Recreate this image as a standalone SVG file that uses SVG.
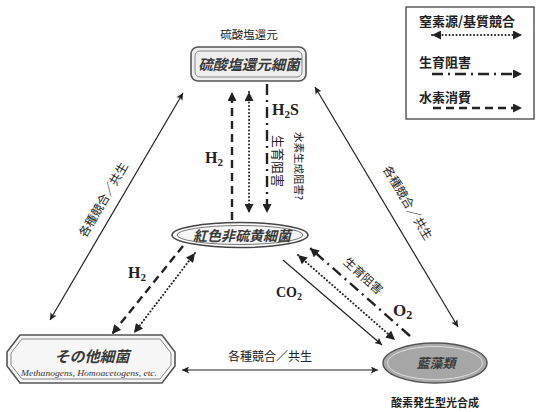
<svg xmlns="http://www.w3.org/2000/svg" width="544" height="412" viewBox="0 0 544 412">
<style>
.jp{font-family:"Noto Sans CJK JP","Noto Sans",sans-serif;fill:#222}
.lbl{font-family:"Noto Sans CJK JP",sans-serif;font-size:12px;fill:#222;text-anchor:middle}
.nt{font-family:"Noto Sans CJK JP",sans-serif;font-weight:bold;font-style:italic;fill:#3a3a3a;text-anchor:middle}
.chem{font-family:"Liberation Serif",serif;font-weight:bold;fill:#222}
.solid{stroke:#222;stroke-width:1.2;fill:none}
.dash{stroke:#222;stroke-width:2.4;stroke-dasharray:8 5;fill:none}
.dot{stroke:#222;stroke-width:2;stroke-dasharray:0.1 3.4;stroke-linecap:round;fill:none}
.dd{stroke:#222;stroke-width:2.4;stroke-dasharray:11 5 2 5;fill:none}
</style>
<defs>
<marker id="ah" viewBox="0 0 10 10" refX="10" refY="5" markerUnits="userSpaceOnUse" markerWidth="10" markerHeight="9" orient="auto-start-reverse">
<path d="M0,0 L10,5 L0,10 z" fill="#222"/>
</marker>
<marker id="sh" viewBox="0 0 10 10" refX="10" refY="5" markerUnits="userSpaceOnUse" markerWidth="9" markerHeight="7" orient="auto-start-reverse">
<path d="M0,0 L10,5 L0,10 L2,5 z" fill="#222"/>
</marker>
</defs>
<rect width="544" height="412" fill="#fff"/>

<g id="legend">
<rect x="406" y="7" width="128" height="112" fill="#fff" stroke="#333" stroke-width="1.2"/>
<text class="jp" x="419" y="26" font-size="13" font-weight="bold">窒素源/基質競合</text>
<line class="dot" x1="432" y1="35" x2="522" y2="35" marker-start="url(#ah)" marker-end="url(#ah)"/>
<text class="jp" x="419" y="67" font-size="13" font-weight="bold">生育阻害</text>
<line class="dd" x1="432" y1="74" x2="522" y2="74" marker-end="url(#ah)"/>
<text class="jp" x="419" y="102" font-size="13" font-weight="bold">水素消費</text>
<line class="dash" x1="433" y1="108" x2="522" y2="108" marker-end="url(#ah)"/>
</g>

<g id="connectors">
<line class="solid" x1="183" y1="93" x2="50" y2="320" marker-start="url(#sh)" marker-end="url(#sh)"/>
<line class="solid" x1="315" y1="87" x2="458" y2="327" marker-start="url(#sh)" marker-end="url(#sh)"/>
<line class="solid" x1="182" y1="370" x2="378" y2="370" marker-start="url(#sh)" marker-end="url(#sh)"/>
<line class="dash" x1="232" y1="220" x2="232" y2="92" marker-end="url(#ah)"/>
<line class="dot" x1="249" y1="92" x2="249" y2="213" marker-start="url(#ah)" marker-end="url(#ah)"/>
<line class="dd" x1="267" y1="84" x2="267" y2="213" marker-end="url(#ah)"/>
<line class="dash" x1="183" y1="246" x2="112" y2="334" marker-end="url(#ah)"/>
<line class="dot" x1="195" y1="253" x2="134" y2="333" marker-start="url(#ah)" marker-end="url(#ah)"/>
<line class="solid" x1="283" y1="260" x2="382" y2="345" marker-end="url(#sh)"/>
<line class="dot" x1="298" y1="255" x2="395" y2="340" marker-start="url(#ah)" marker-end="url(#ah)"/>
<line class="dd" x1="410" y1="336" x2="310" y2="248" marker-end="url(#ah)"/>
<text class="lbl" transform="translate(107,202) rotate(-59.6)">各種競合／共生</text>
<text class="lbl" transform="translate(404,205) rotate(59.2)">各種競合／共生</text>
<text class="lbl" x="270" y="361">各種競合／共生</text>
<text class="chem" x="205" y="163" font-size="16">H<tspan font-size="11" dy="3">2</tspan></text>
<text class="chem" x="272" y="115" font-size="16">H<tspan font-size="11" dy="3">2</tspan><tspan dy="-3">S</tspan></text>
<text class="jp" font-size="13" text-anchor="middle" transform="translate(277,161) rotate(90)" dy="4.5">生育阻害</text>
<text class="jp" font-size="10.5" text-anchor="middle" transform="translate(298,166) rotate(90)" dy="3.5">水素生成阻害?</text>
<text class="chem" x="128" y="278" font-size="16">H<tspan font-size="11" dy="3">2</tspan></text>
<text class="chem" x="276" y="297" font-size="14">CO<tspan font-size="10" dy="3">2</tspan></text>
<text class="chem" x="393" y="316" font-size="17">O<tspan font-size="12" dy="3">2</tspan></text>
<text class="jp" font-size="12" text-anchor="middle" transform="translate(363,276) rotate(42)" dy="4">生育阻害</text>
</g>

<g id="node-srb">
<text class="jp" x="249" y="39" font-size="11.5" text-anchor="middle">硫酸塩還元</text>
<rect x="191" y="47" width="115" height="34" rx="7" fill="#efefef" stroke="#555" stroke-width="1.6"/>
<rect x="195" y="51" width="107" height="26" rx="5" fill="none" stroke="#888" stroke-width="1"/>
<text class="nt" x="249" y="70" font-size="14.5">硫酸塩還元細菌</text>
</g>

<g id="node-psb">
<ellipse cx="240" cy="235" rx="68" ry="12.5" fill="#fff" stroke="#444" stroke-width="1.5"/>
<ellipse cx="240" cy="235" rx="63" ry="9.5" fill="#f6f6f6" stroke="#777" stroke-width="1"/>
<text class="nt" x="242" y="240.5" font-size="14">紅色非硫黄細菌</text>
</g>

<g id="node-other">
<polygon points="20,335 162,335 175,352 175,366 162,383 20,383 7,366 7,352" fill="#f7f7f7" stroke="#555" stroke-width="1.6"/>
<polygon points="22,339 160,339 171,353 171,365 160,379 22,379 11,365 11,353" fill="none" stroke="#888" stroke-width="1"/>
<text class="nt" x="92" y="362" font-size="15">その他細菌</text>
<text x="89" y="376" font-family="Liberation Serif,serif" font-style="italic" font-size="9" fill="#333" text-anchor="middle" textLength="136" lengthAdjust="spacingAndGlyphs">Methanogens, Homoacetogens, etc.</text>
</g>

<g id="node-cyano">
<ellipse cx="435" cy="363" rx="52" ry="20" fill="#aaa" stroke="#555" stroke-width="1.5"/>
<ellipse cx="435" cy="363" rx="47.5" ry="16.5" fill="#a6a6a6" stroke="#ddd" stroke-width="1"/>
<text class="nt" x="436" y="368" font-size="13" fill="#333">藍藻類</text>
<text class="jp" x="435" y="407" font-size="11" font-weight="bold" text-anchor="middle">酸素発生型光合成</text>
</g>
</svg>
